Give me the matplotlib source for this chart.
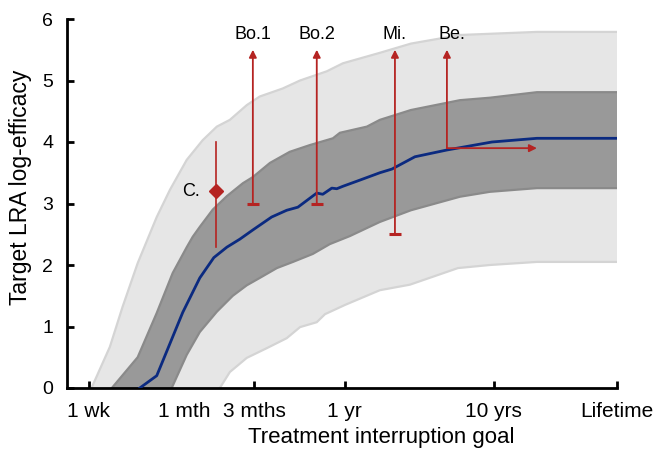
import matplotlib
matplotlib.use("Agg")
import matplotlib.pyplot as plt

plt.rcParams['font.family'] = ['Liberation Sans', 'DejaVu Sans']

# x values in days (log scale)
tick_days = [7, 30.4, 90, 365, 3650, 24500]
tick_labels = ["1 wk", "1 mth", "3 mths", "1 yr", "10 yrs", "Lifetime"]

# median curve
med_x = [15.4, 20.0, 29.9, 38.9, 48.3, 59.1, 72.2, 88.3, 118, 149, 177, 237, 260, 299, 323, 355,
         461, 628, 757, 1080, 1770, 3550, 7110, 24500]
med_y = [0.0, 0.2, 1.23, 1.79, 2.12, 2.29, 2.42, 2.57, 2.78, 2.89, 2.94, 3.17, 3.15, 3.25, 3.24, 3.28,
         3.38, 3.50, 3.56, 3.76, 3.87, 4.0, 4.06, 4.06]

# inner (dark) band
inner_up_x = [10.0, 14.9, 20.0, 25.6, 31.8, 34.9, 38.9, 47.5, 59.1, 75.7, 88.3, 115, 156, 213, 304, 339,
              514, 628, 1015, 2164, 3436, 7110, 24500]
inner_up_y = [0.0, 0.5, 1.22, 1.87, 2.29, 2.46, 2.62, 2.90, 3.12, 3.33, 3.43, 3.66, 3.84, 3.95, 4.06, 4.15,
              4.25, 4.36, 4.52, 4.68, 4.72, 4.81, 4.81]
inner_lo_x = [25.2, 31.8, 38.9, 50.6, 64.8, 80.4, 98.3, 128, 164, 223, 290, 395, 628, 1015, 2164,
              3436, 7110, 24500]
inner_lo_y = [0.0, 0.54, 0.91, 1.24, 1.50, 1.67, 1.79, 1.95, 2.05, 2.18, 2.34, 2.47, 2.70, 2.89, 3.11,
              3.19, 3.25, 3.25]

# outer (light) band
outer_up_x = [7.3, 9.7, 11.8, 14.9, 20.0, 24.5, 31.8, 40.7, 50.6, 61.9, 80.4, 98.3, 140, 183, 277,
              355, 628, 1015, 2164, 7110, 24500]
outer_up_y = [0.0, 0.67, 1.32, 2.03, 2.78, 3.22, 3.71, 4.03, 4.25, 4.36, 4.60, 4.74, 4.87, 5.0, 5.15,
              5.28, 5.45, 5.60, 5.74, 5.79, 5.79]
outer_lo_x = [53.0, 61.9, 80.4, 110, 149, 183, 237, 269, 366, 628, 999, 2100, 3436, 7110, 24500]
outer_lo_y = [0.0, 0.26, 0.49, 0.65, 0.81, 0.99, 1.07, 1.20, 1.35, 1.59, 1.68, 1.95, 2.0, 2.05, 2.05]

# study annotations
c_x, c_y, c_lo, c_hi = 49.9, 3.2, 2.3, 4.0
studies = ["Bo.1", "Bo.2", "Mi."]
study_x = [88.3, 237, 793]
study_lo = [3.0, 3.0, 2.5]
study_hi = 5.5
be_x, be_x_end, be_y = 1770, 7110, 3.9
label_y = 5.75

red = '#b52422'
fig = plt.figure(figsize=(6.61, 4.49), dpi=100)
ax = fig.add_axes([67/661, 1-388/449, (617-67)/661, (388-19)/449])
ax.set_xscale('log')
ax.set_xlim(5.0, 24500)
ax.set_ylim(0, 6)

# outer band
ax.fill(outer_up_x + outer_lo_x[::-1], outer_up_y + outer_lo_y[::-1], color='#e6e6e6', lw=0, zorder=1)
ax.plot(outer_up_x, outer_up_y, color='#d4d4d4', lw=1.6, zorder=1.5)
ax.plot(outer_lo_x, outer_lo_y, color='#d4d4d4', lw=1.6, zorder=1.5)
# inner band
ax.fill(inner_up_x + inner_lo_x[::-1], inner_up_y + inner_lo_y[::-1], color='#999999', lw=0, zorder=2)
ax.plot(inner_up_x, inner_up_y, color='#8a8a8a', lw=1.6, zorder=2.5)
ax.plot(inner_lo_x, inner_lo_y, color='#8a8a8a', lw=1.6, zorder=2.5)
# median
ax.plot(med_x, med_y, color='#0b2a80', lw=2.0, zorder=3)

# C.
ax.plot([c_x, c_x], [c_lo, c_hi], color=red, lw=1.2, zorder=4)
ax.plot([c_x], [c_y], marker='D', color=red, ms=7, zorder=5)
ax.text(c_x * 0.78, c_y, "C.", ha='right', va='center', fontsize=13)

for name, x, lo in zip(studies, study_x, study_lo):
    ax.annotate('', xy=(x, study_hi), xytext=(x, lo),
                arrowprops=dict(arrowstyle='-|>', color=red, lw=1.3, mutation_scale=11,
                                shrinkA=0, shrinkB=0), zorder=4)
    ax.plot([x], [lo], marker='_', color=red, ms=8, mew=2.2, zorder=5)
    ax.text(x, label_y, name, ha='center', va='center', fontsize=13)

# Be.
ax.annotate('', xy=(be_x, study_hi), xytext=(be_x, be_y),
            arrowprops=dict(arrowstyle='-|>', color=red, lw=1.3, mutation_scale=11,
                            shrinkA=0, shrinkB=0), zorder=4)
ax.annotate('', xy=(be_x_end, be_y), xytext=(be_x, be_y),
            arrowprops=dict(arrowstyle='-|>', color=red, lw=1.3, mutation_scale=11,
                            shrinkA=0, shrinkB=0), zorder=4)
ax.text(be_x * 1.08, label_y, "Be.", ha='center', va='center', fontsize=13)

# axes styling
for s in ['top', 'right']:
    ax.spines[s].set_visible(False)
for s in ['left', 'bottom']:
    ax.spines[s].set_linewidth(2.0)
ax.set_xticks(tick_days)
ax.set_xticklabels(tick_labels)
ax.xaxis.set_minor_locator(matplotlib.ticker.NullLocator())
ax.set_yticks([0, 1, 2, 3, 4, 5, 6])
ax.tick_params(axis='both', direction='in', length=5, width=2, pad=10)
ax.tick_params(axis='x', labelsize=15)
ax.tick_params(axis='y', labelsize=14)
ax.xaxis.get_major_ticks()[1].tick1line.set_visible(False)
ax.set_xlabel("Treatment interruption goal", fontsize=16)
ax.set_ylabel("Target LRA log-efficacy", fontsize=16.5)
ax.xaxis.set_label_coords(0.571, -0.105)
ax.yaxis.set_label_coords(-0.064, 0.545)

fig.savefig("out.png", dpi=100)
